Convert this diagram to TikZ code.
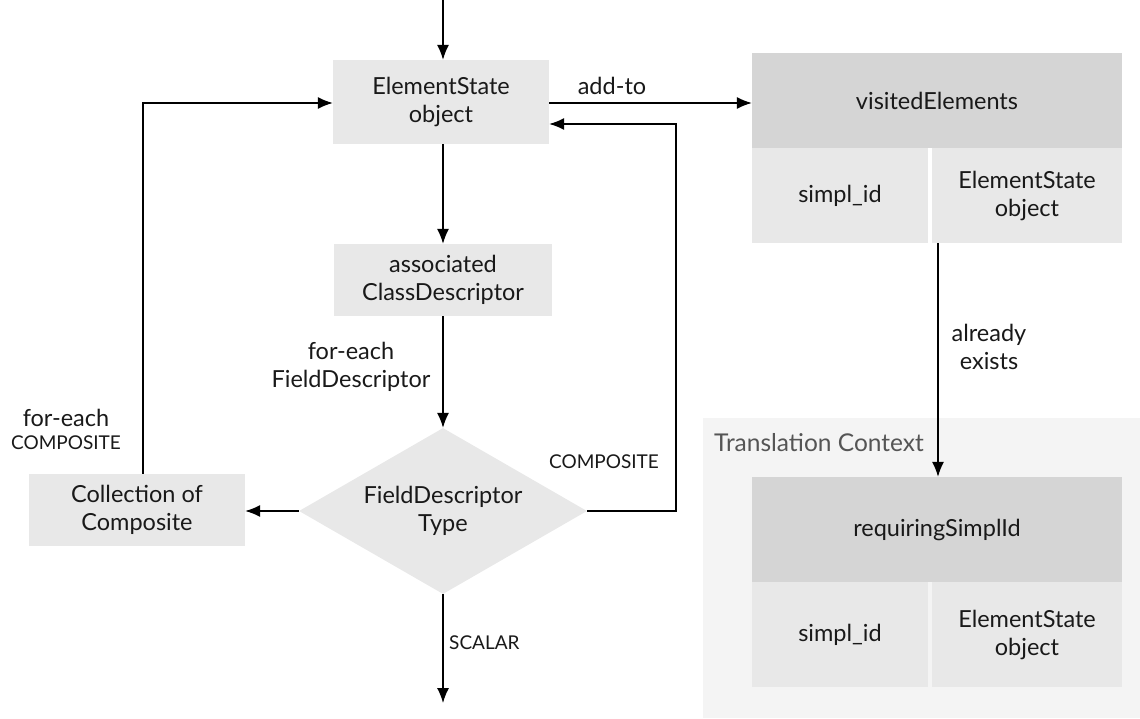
\documentclass[tikz,border=0pt]{standalone}
\usepackage{fontspec}
\setmainfont{Lato}
\usetikzlibrary{arrows.meta,shapes.geometric}
\definecolor{boxfill}{HTML}{E8E8E8}
\definecolor{headfill}{HTML}{D5D5D5}
\definecolor{ctxfill}{HTML}{F4F4F4}
\definecolor{ctxtext}{HTML}{555555}
\begin{document}
\begin{tikzpicture}[x=1pt,y=-1pt,
  every node/.style={font=\fontsize{23.5}{28}\selectfont,text=black!90},
  proc/.style={fill=boxfill,inner sep=0pt,align=center},
  head/.style={fill=headfill,inner sep=0pt,align=center},
  lbl/.style={inner sep=0pt,align=center},
  small/.style={inner sep=0pt,align=center,font=\fontsize{19}{22}\selectfont},
  arr/.style={-{Latex[length=15pt,width=12pt]},line width=1.3pt}]
\useasboundingbox (0,0) rectangle (1140,719);

% translation context backdrop
\fill[ctxfill] (703,418) rectangle (1140,718);
\node[lbl,anchor=west,text=ctxtext,font=\fontsize{24.5}{28}\selectfont] (ctx) at (714,443) {Translation Context};

% main flow nodes
\node[proc,minimum width=216pt,minimum height=84pt] (es) at (441,102) {ElementState\\object};
\node[proc,minimum width=218pt,minimum height=72pt] (acd) at (443,280) {associated\\ClassDescriptor};
\node[diamond,fill=boxfill,inner sep=0pt,minimum width=288pt,minimum height=166pt] (fdt) at (443,511) {};
\node[lbl] (fdtText) at (fdt.center) {FieldDescriptor\\Type};
\node[proc,minimum width=216pt,minimum height=72pt] (coll) at (137,510) {Collection of\\Composite};

% visitedElements table
\node[head,minimum width=370pt,minimum height=95pt] (ve) at (937,100.5) {visitedElements};
\node[proc,minimum width=176pt,minimum height=95pt] (ve1) at (840,195.5) {simpl\_id};
\node[proc,minimum width=190pt,minimum height=95pt] (ve2) at (1027,195.5) {ElementState\\object};

% requiringSimplId table
\node[head,minimum width=370pt,minimum height=105pt] (rs) at (937,529.5) {requiringSimplId};
\node[proc,minimum width=176pt,minimum height=105pt] (rs1) at (840,634.5) {simpl\_id};
\node[proc,minimum width=190pt,minimum height=105pt] (rs2) at (1027,634.5) {ElementState\\object};

% free ends
\coordinate (in) at (443,0);
\coordinate (out) at (443,703);

% connectors
\draw[arr] (in) -- (es.north -| in);
\draw[arr] (es.south -| acd) -- (acd.north);
\draw[arr] (acd.south) -- (fdt.north);
\draw[arr] (fdt.south) -- (out);
\draw[arr] (fdt.west) -- (coll.east |- fdt.west);
\draw[arr] (coll.north -| 143,0) -- (143,103) -- (es.west |- 0,103);
\draw[arr] (fdt.east) -- (676,511) -- (676,124) -- (es.east |- 0,124);
\draw[arr] (es.east |- 0,103) -- (ve.west |- 0,103);
\draw[arr] (ve2.south -| 938,0) -- (rs.north -| 938,0);

% connector labels
\node[lbl] (lblAdd) at (612,86) {add-to};
\node[lbl] (lblFor) at (351,367) {for-each\\FieldDescriptor};
\node[lbl] (lblFc) at (66,418) {for-each};
\node[small] (lblFc2) at (66,443) {COMPOSITE};
\node[small] (lblComp) at (604,462) {COMPOSITE};
\node[small,anchor=west] (lblSc) at (449,643) {SCALAR};
\node[lbl] (lblAl) at (989,347) {already\\exists};
\end{tikzpicture}
\end{document}
